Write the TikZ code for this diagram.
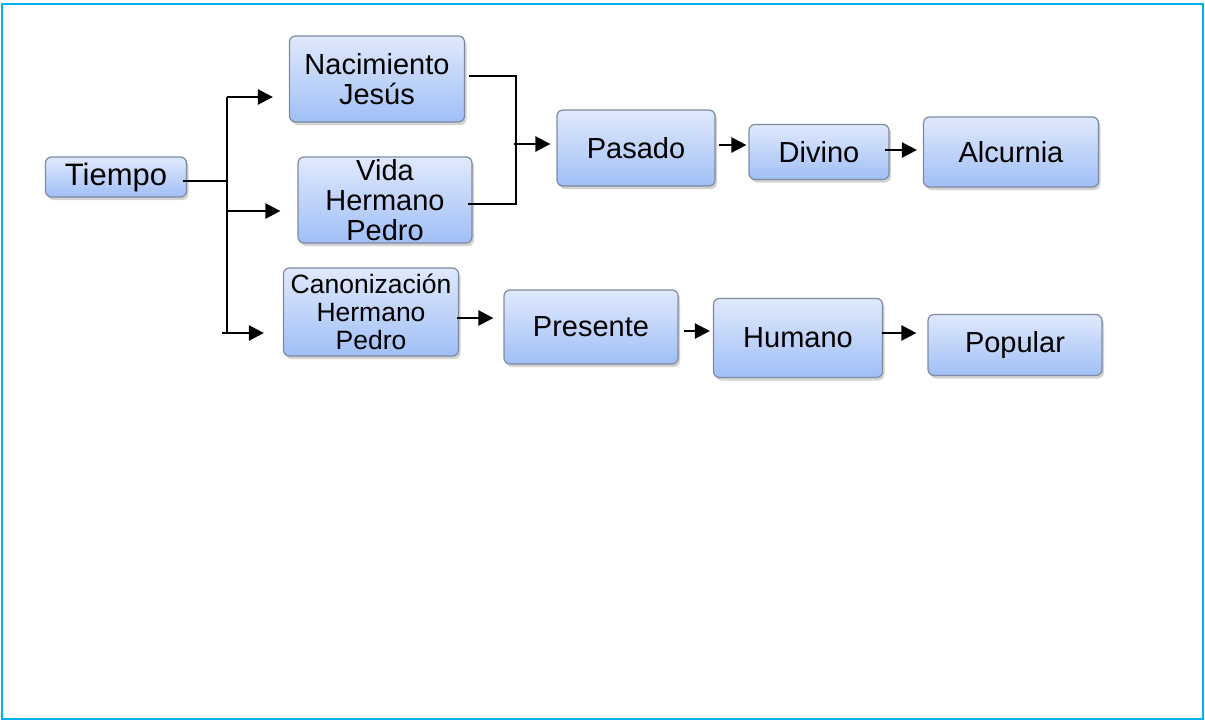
\documentclass[tikz,border=0pt]{standalone}
\usepackage{fontspec}
\setmainfont{Liberation Sans}
\usetikzlibrary{shadows,arrows.meta}
\definecolor{frameblue}{RGB}{0,176,240}
\definecolor{boxtop}{RGB}{224,233,252}
\definecolor{boxbot}{RGB}{160,191,246}
\definecolor{boxline}{RGB}{125,138,160}
\tikzset{box/.style = {%
  draw = boxline,
  line width = 1.2pt,
  rounded corners = 6pt,
  top color = boxtop,
  bottom color = boxbot,
  align = center,
  inner sep = 0pt,
  font = \fontsize{29}{30}\selectfont,
  drop shadow = {shadow xshift=2pt, shadow yshift=-3pt, opacity=0.35}
 },
 link/.style = {line width = 2.4pt},
 arr/.style = {link, -{Triangle[length=15pt,width=15pt]}}
}

\begin{document}
\begin{tikzpicture}[x=1pt,y=1pt]
      \useasboundingbox (0,0) rectangle (1205,-721);
      \draw[frameblue, line width=2pt] (2,-4) rectangle (1203,-719);

      % boxes
      \node[box, minimum width=141pt, minimum height=40pt, font=\fontsize{31}{31}\selectfont] (tiempo) at (116,-177) {Tiempo};
      \node[box, minimum width=175pt, minimum height=86pt] (nacim) at (377,-79) {Nacimiento\\Jesús};
      \node[box, minimum width=174pt, minimum height=86pt] (vida) at (385,-200) {Vida\\Hermano\\Pedro};
      \node[box, minimum width=175pt, minimum height=88pt, font=\fontsize{26.5}{28}\selectfont] (canon) at (371,-312) {Canonización\\Hermano\\Pedro};
      \node[box, minimum width=158pt, minimum height=76pt] (pasado) at (636,-148) {Pasado};
      \node[box, minimum width=140pt, minimum height=55pt] (divino) at (819,-152) {Divino};
      \node[box, minimum width=175pt, minimum height=70pt] (alcurnia) at (1011,-152) {Alcurnia};
      \node[box, minimum width=174pt, minimum height=74pt] (presente) at (591,-327) {Presente};
      \node[box, minimum width=169pt, minimum height=79pt] (humano) at (798,-338) {Humano};
      \node[box, minimum width=174pt, minimum height=61pt] (popular) at (1015,-345) {Popular};

      % branching from Tiempo
      \coordinate (ttop) at (227,-97);
      \coordinate (tmid) at (227,-211);
      \coordinate (tbot) at (222,-333);
      \draw[link] ([xshift=-4pt,yshift=-4pt]tiempo.east) -- ++(44,0);
      \draw[link] (ttop) -- (227,-333) -- (tbot);
      \draw[arr, shorten >=16pt] (ttop) -- (ttop -| nacim.west);
      \draw[arr, shorten >=17pt] (tmid) -- (tmid -| vida.west);
      \draw[arr, shorten >=19pt] (tbot) -- (tbot -| canon.west);

      % joining into Pasado
      \coordinate (jn) at (516,-76);
      \coordinate (jv) at (516,-204);
      \coordinate (jp) at (514,-144);
      \draw[link] ([xshift=4pt]nacim.east |- jn) -- (jn) -- (jv) -- ([xshift=-5pt]vida.east |- jv);
      \draw[arr, shorten >=6pt] (jp) -- (jp -| pasado.west);

      % chains
      \draw[arr, shorten <=3pt, shorten >=2pt] (pasado.east |- 0,-145) -- (divino.west |- 0,-145);
      \draw[arr, shorten <=-5pt, shorten >=6pt] (divino.east |- 0,-150) -- (alcurnia.west |- 0,-150);
      \draw[arr, shorten <=-2pt, shorten >=10pt] (canon.east |- 0,-318) -- (presente.west |- 0,-318);
      \draw[arr, shorten <=5pt, shorten >=3pt] (presente.east |- 0,-331) -- (humano.west |- 0,-331);
      \draw[arr, shorten <=-1pt, shorten >=11pt] (humano.east |- 0,-333) -- (popular.west |- 0,-333);
\end{tikzpicture}
\end{document}
